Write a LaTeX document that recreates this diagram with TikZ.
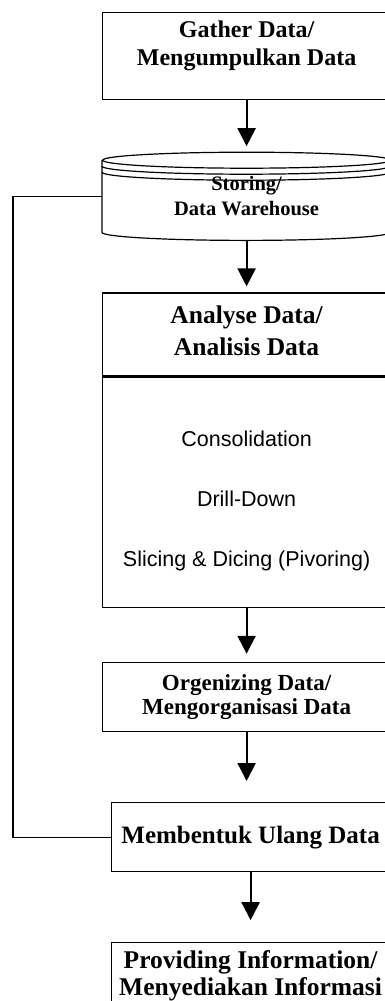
\documentclass[tikz,border=0pt]{standalone}
\usepackage{fontspec}
\setmainfont{Liberation Serif}
\newfontfamily\olapfont{Liberation Sans}
\usetikzlibrary{positioning, arrows.meta}

\begin{document}
\begin{tikzpicture}[node distance=52pt]
 \tikzstyle{stepbox}=[rectangle,draw=black,line width=1.2pt,align=center,
   minimum width=288pt,inner xsep=0pt,inner ysep=0pt]
 \tikzstyle{drum}=[stepbox,draw=none]
 \tikzstyle{flow}=[-{Triangle[width=18pt,length=18pt]},line width=2.2pt]
 \useasboundingbox (0,0) rectangle (385pt,-1001pt);
 \clip (0,0) rectangle (385pt,-1001pt);

 \node (gather) [stepbox,anchor=north west,text height=53pt,text depth=34pt,
   font=\fontsize{24}{28}\selectfont\bfseries] at (102pt,-12pt)
   {Gather Data/\\Mengumpulkan Data};
 \node (store) [drum,below=of gather,text height=63pt,text depth=24pt,
   font=\fontsize{20.5}{25}\selectfont\bfseries]
   {Storing/\\Data Warehouse};
 \node (analyse) [stepbox,below=of store,text height=62pt,text depth=21pt,
   font=\fontsize{25.5}{32}\selectfont\bfseries]
   {Analyse Data/\\Analisis Data};
 \node (olap) [stepbox,below=0pt of analyse,text height=189.5pt,text depth=40.5pt,
   font=\fontsize{21.5}{60}\selectfont\olapfont]
   {Consolidation\\Drill-Down\\Slicing \& Dicing (Pivoring)};
 \node (organize) [stepbox,below=54pt of olap,text height=52pt,text depth=17pt,
   font=\fontsize{23}{24}\selectfont\bfseries]
   {Orgenizing Data/\\Mengorganisasi Data};
 \node (reshape) [stepbox,below=70pt of organize,xshift=4pt,minimum width=278pt,
   text height=41pt,text depth=28pt,font=\fontsize{25}{30}\selectfont\bfseries]
   {Membentuk Ulang Data};
 \node (provide) [stepbox,below=70pt of reshape,minimum width=278pt,
   text height=53pt,text depth=29pt,font=\fontsize{25.5}{27}\selectfont\bfseries]
   {Providing Information/\\Menyediakan Informasi};

 % data warehouse drum
 \draw[line width=1.2pt] ([yshift=-8pt]store.north west) -- ([yshift=8pt]store.south west)
   arc[start angle=180,end angle=360,x radius=144pt,y radius=8pt]
   -- ([yshift=-8pt]store.north east);
 \draw[line width=1.2pt] ([yshift=-8pt]store.north) ellipse [x radius=144pt,y radius=8pt];
 \foreach \gap in {6,12}
   \draw[line width=1.2pt] ([yshift={-(8+\gap)*1pt}]store.north west)
     arc[start angle=180,end angle=360,x radius=144pt,y radius=8pt];

 % arrows
 \draw[flow,shorten >=6pt] (gather) -- (store);
 \draw[flow,shorten >=6pt] (store) -- (analyse);
 \draw[flow,shorten >=8pt] (olap) -- (organize);
 \draw[flow,shorten >=21pt] (organize.south) -- (organize.south |- reshape.north);
 \draw[flow,shorten >=22pt] (reshape) -- (provide);

 % back to the warehouse
 \draw[line width=1.2pt] (reshape.west) -- ++(-98pt,0) |- (store.west);
\end{tikzpicture}
\end{document}
